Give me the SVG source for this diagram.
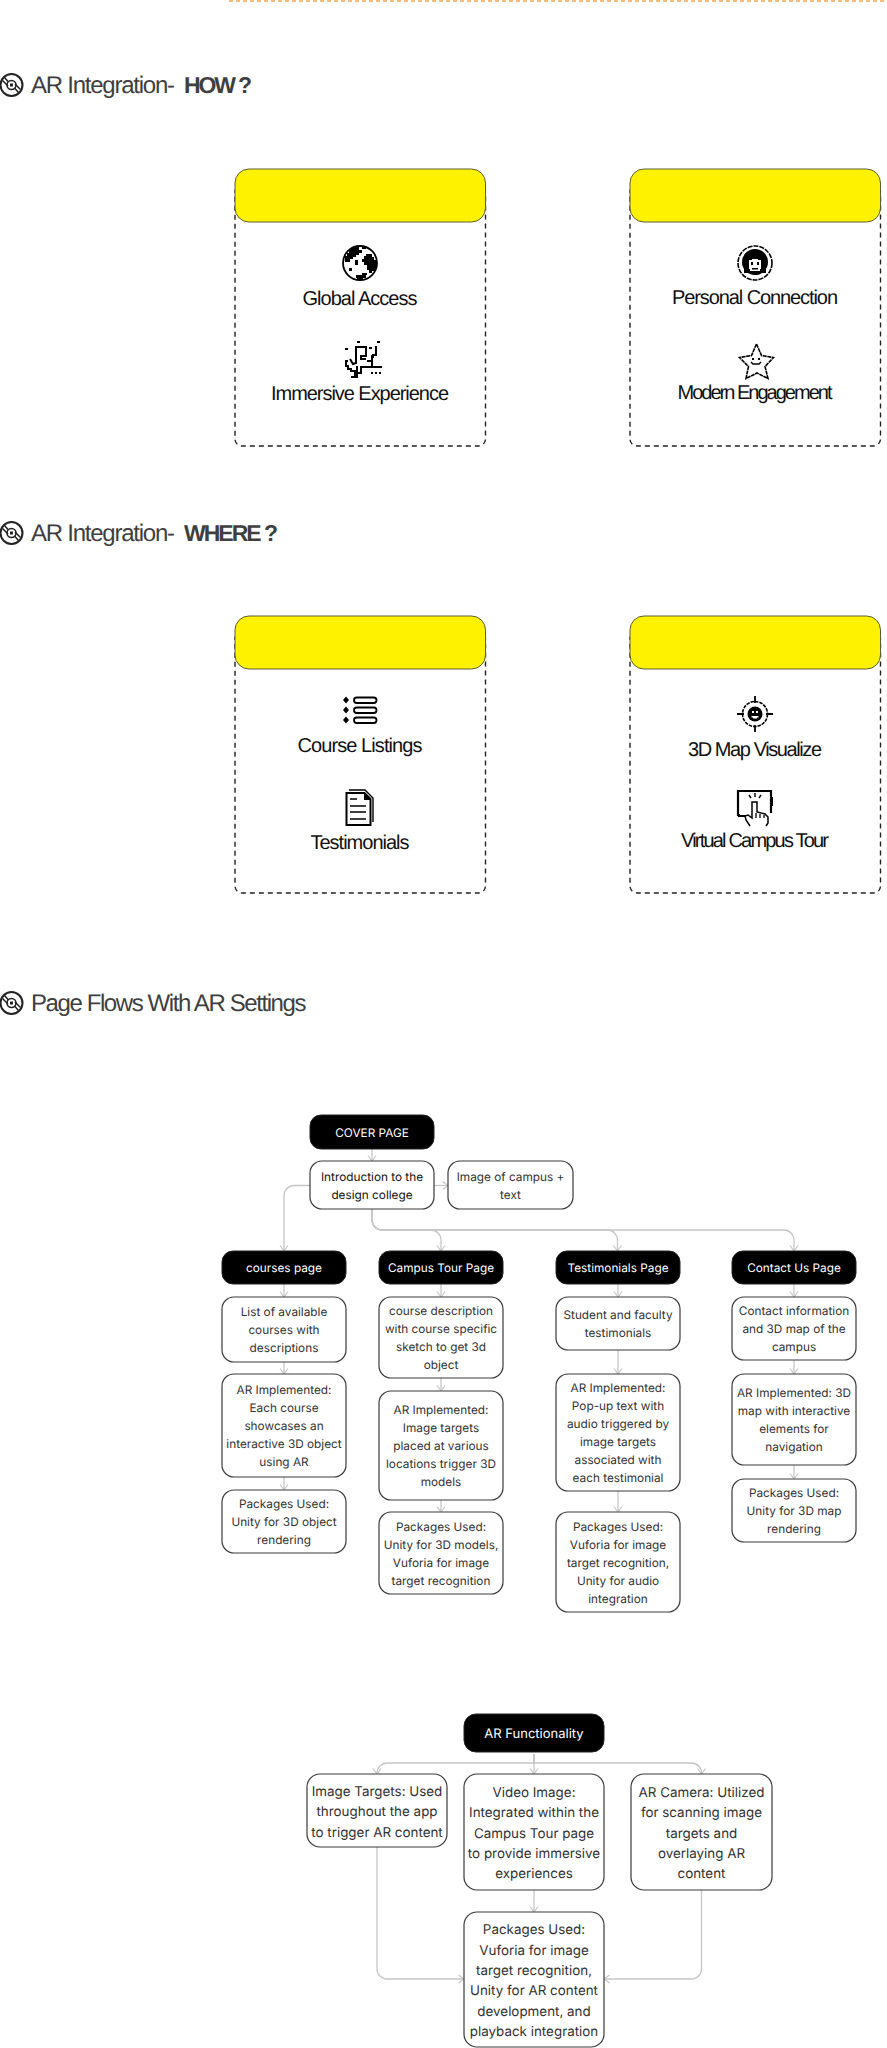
<svg xmlns="http://www.w3.org/2000/svg" xmlns:xlink="http://www.w3.org/1999/xlink" width="887" height="2048" viewBox="0 0 887 2048">
<style>
text{text-rendering:geometricPrecision}
.h{font-family:"Liberation Sans",Arial,sans-serif;font-size:24px;fill:#3f3f3f}
.hb{font-weight:700;font-size:23px}
.l{font-family:"Liberation Sans",Arial,sans-serif;font-size:20px;fill:#111;text-anchor:middle}
.y{fill:#fff200;stroke:#5c5c38;stroke-width:1}
.d{fill:none;stroke:#222;stroke-width:1.4;stroke-dasharray:5 4}
.n{fill:#fff;stroke:#3a3a3a;stroke-width:1.2}
.b{fill:#000;stroke:#222;stroke-width:1}
.t{font-family:Inter,"Noto Sans",sans-serif;font-size:11.8px;fill:#333;text-anchor:middle}
.w{font-family:Inter,"Noto Sans",sans-serif;font-size:11.8px;fill:#fff;text-anchor:middle}
.a{font-family:Inter,"Noto Sans",sans-serif;font-size:13.4px;fill:#333;text-anchor:middle}
.c{fill:none;stroke:#c6c6c6;stroke-width:1.3;marker-end:url(#ah)}
.i{fill:none;stroke:#000;stroke-width:2}
.f{fill:#000}
.wf{fill:#fff}
</style>
<defs>
<marker id="ah" viewBox="0 0 10 10" refX="8.5" refY="5" markerWidth="10" markerHeight="10" markerUnits="userSpaceOnUse" orient="auto"><path d="M3 1 L8.5 5 L3 9" fill="none" stroke="#c6c6c6" stroke-width="1.2"/></marker>
<g id="disc">
<circle cx="11.500" cy="0" r="11" fill="none" stroke="#222" stroke-width="2"/>
<circle cx="11.500" cy="0" r="4.500" fill="none" stroke="#222" stroke-width="1.600"/>
<rect x="10" y="-1.500" width="3" height="3" fill="#222"/>
<path d="M4.500 -7.500 L8.500 -3 M14.500 3 L18.500 7.500 M2.500 -4.500 L8 1 M15 -1 L20.500 4.500" fill="none" stroke="#222" stroke-width="1.500"/>
</g>
</defs>
<rect width="887" height="2048" fill="#fff"/>
<line id="top-rule" x1="229" y1="1" x2="887" y2="1" stroke="#f6a750" stroke-width="1.4" stroke-dasharray="4 3"/>

<g id="heading-how"><use href="#disc" y="85"/><text class="h" x="31" y="93" textLength="144">AR Integration-</text><text class="h hb" x="184" y="93" textLength="68">HOW ?</text></g>
<g id="heading-where"><use href="#disc" y="533"/><text class="h" x="31" y="541" textLength="144">AR Integration-</text><text class="h hb" x="184" y="541" textLength="94">WHERE ?</text></g>
<g id="heading-flows"><use href="#disc" y="1003"/><text class="h" x="31" y="1011" textLength="275.500">Page Flows With AR Settings</text></g>

<g id="card-how-1">
<rect class="d" x="235" y="185" width="250.500" height="261" rx="7"/>
<rect class="y" x="235" y="169" width="250.500" height="53" rx="14"/>
<g id="icon-globe"><circle cx="360" cy="263" r="17" fill="#fff" stroke="#000" stroke-width="1.800"/><path class="f" d="M354 247h5v3h3v3h-3v2h-3v2h-3v2h-3v3h-5v-6h2v-3h2v-3h2v-2h3zM366 254h6v3h2v3h3v8h-2v3h-3v2h-3v-3h-2v-5h-3v-3h-2v-3h2v-3h2zM355 260h3v5h-3zM356 275h6v-2h5v2h-1v3h-3v2h-6v-2h-1zM362 247h4v2h-4zM349 268h3v3h-3z"/></g>
<text class="l" x="360" y="305" textLength="115">Global Access</text>
<g id="icon-dino">
<path class="i" d="M355 376v-5h-4v-2h-3v-3h-2v-5h2M350 359l3 5 3-1v-16h10v9h-5v3h5M357 366v7h4v-6h6M361 373h-4v4h-6"/>
<path class="i" d="M345 349h3M357 342h3M377 342h3M369 348h3M376 346v9h-3v3M372 366v-11M367 361h5M367 367h15M371 373h2M375 373h2M379 373h2"/>
<rect class="f" x="355" y="351" width="2" height="2"/>
</g>
<text class="l" x="360" y="400" textLength="178">Immersive Experience</text>
</g>

<g id="card-how-2">
<rect class="d" x="630" y="185" width="250.500" height="261" rx="7"/>
<rect class="y" x="630" y="169" width="250.500" height="53" rx="14"/>
<g id="icon-face"><circle cx="755" cy="263" r="17" fill="none" stroke="#000" stroke-width="1.600" stroke-dasharray="5 1"/><circle cx="755" cy="262" r="13" class="f"/><path class="f" d="M744 264h22v9h-22z"/><path class="wf" d="M749 260h3v-1h6v1h3v9h-1v2h-10v-2h-1z"/><rect x="751" y="262" width="2" height="3" class="f"/><rect x="757" y="262" width="2" height="3" class="f"/><rect x="752" y="268" width="6" height="1.500" class="f"/></g>
<text class="l" x="755" y="304" textLength="166">Personal Connection</text>
<g id="icon-star"><path d="M756.500 344l5 11.500 12 2-8.500 9 3 12-11-5.500-11 5.500 2.500-12-9-9 12-2z" fill="none" stroke="#000" stroke-width="1.600" stroke-dasharray="4 .6"/><rect class="f" x="752" y="358" width="2" height="2"/><rect class="f" x="758" y="358" width="2" height="2"/><path d="M751 362l2 2h6l2-2" fill="none" stroke="#000" stroke-width="1.400"/></g>
<text class="l" x="755" y="399" textLength="155">Modern Engagement</text>
</g>

<g id="card-where-1">
<rect class="d" x="235" y="632" width="250.500" height="261" rx="7"/>
<rect class="y" x="235" y="616" width="250.500" height="53" rx="14"/>
<g id="icon-list"><path class="f" d="M346 696.500l3 3.500-3 3.500-3-3.500zM346 706.500l3 3.500-3 3.500-3-3.500zM346 716.500l3 3.500-3 3.500-3-3.500z"/><g fill="none" stroke="#000" stroke-width="1.800"><rect x="354" y="697.500" width="22.500" height="5.500" rx="2.700"/><rect x="354" y="707.500" width="22.500" height="5.500" rx="2.700"/><rect x="354" y="717.500" width="22.500" height="5.500" rx="2.700"/></g></g>
<text class="l" x="360" y="752" textLength="125">Course Listings</text>
<g id="icon-doc"><path d="M346.500 793h18l6 6v26h-24z" fill="none" stroke="#000" stroke-width="2"/><path d="M349 790h16l8 8v24" fill="none" stroke="#000" stroke-width="1.400"/><path class="f" d="M364 793l7 7h-7z"/><path d="M350 799h7M350 806h16M350 812h16M350 819h16" fill="none" stroke="#000" stroke-width="1.600"/></g>
<text class="l" x="360" y="849" textLength="99">Testimonials</text>
</g>

<g id="card-where-2">
<rect class="d" x="630" y="632" width="250.500" height="261" rx="7"/>
<rect class="y" x="630" y="616" width="250.500" height="53" rx="14"/>
<g id="icon-target"><circle cx="755" cy="714" r="12.500" fill="none" stroke="#000" stroke-width="1.600" stroke-dasharray="3.500 1"/><path d="M755 696v7M755 725v7M737 714h7M766 714h7" fill="none" stroke="#000" stroke-width="1.800"/><circle cx="755" cy="714" r="7.500" class="f"/><rect x="752" y="711" width="2" height="2" class="wf"/><rect x="756" y="711" width="2" height="2" class="wf"/><path d="M751.500 716h7v1.500h-1.500v1h-4v-1h-1.500z" class="wf"/></g>
<text class="l" x="755" y="756" textLength="134">3D Map Visualize</text>
<g id="icon-tablet"><path d="M747 816h-8v-1h-1v-24h33v22" fill="none" stroke="#000" stroke-width="2.200"/><rect x="770" y="797" width="3" height="9" class="f"/><path d="M749 795l2 3M755 793v4M761 795l-2 3" fill="none" stroke="#000" stroke-width="1.400"/><path d="M750 826l-4-6-1-4 3-1 4 3v-16h5v10l8 2 3 3v6l-2 3" fill="#fff" stroke="#000" stroke-width="1.500"/><path d="M756 813v5M760 814v4M764 815v3" fill="none" stroke="#000" stroke-width="1.300"/></g>
<text class="l" x="755" y="847" textLength="148">Virtual Campus Tour</text>
</g>

<g id="connectors">
<path class="c" d="M372 1149V1161"/>
<path class="c" d="M434 1185.500H448"/>
<path class="c" d="M310 1185.500H294a10 10 0 0 0-10 10V1251"/>
<path class="c" d="M372 1209V1220a10 10 0 0 0 10 10H431a10 10 0 0 1 10 10V1251"/>
<path class="c" d="M372 1209V1220a10 10 0 0 0 10 10H607.500a10 10 0 0 1 10 10V1251"/>
<path class="c" d="M372 1209V1220a10 10 0 0 0 10 10H784a10 10 0 0 1 10 10V1251"/>
<path class="c" d="M284 1284V1297"/><path class="c" d="M284 1362V1374"/><path class="c" d="M284 1477V1490"/>
<path class="c" d="M441 1284V1297"/><path class="c" d="M441 1378V1391"/><path class="c" d="M441 1500V1512"/>
<path class="c" d="M618 1284V1297"/><path class="c" d="M618 1350V1374"/><path class="c" d="M618 1491V1512"/>
<path class="c" d="M794 1284V1297"/><path class="c" d="M794 1360V1374"/><path class="c" d="M794 1465V1479"/>
<path class="c" d="M534 1754V1763H387a10 10 0 0 0-10 10V1774"/>
<path class="c" d="M534 1754V1774"/>
<path class="c" d="M534 1754V1763H691.500a10 10 0 0 1 10 10V1774"/>
<path class="c" d="M534 1890V1912"/>
<path class="c" d="M377 1847V1969a10 10 0 0 0 10 10H464"/>
<path class="c" d="M701.500 1890V1969a10 10 0 0 1-10 10H604"/>
</g>

<g id="n-cover"><rect class="b" x="310" y="1115" width="124" height="34" rx="11"/><text class="w" x="372" y="1136.500">COVER PAGE</text></g>
<g id="n-intro"><rect class="n" x="310" y="1161" width="124" height="48" rx="12"/><text class="t" style="fill:#111" x="372" y="1181">Introduction to the</text><text class="t" style="fill:#111" x="372" y="1199">design college</text></g>
<g id="n-image"><rect class="n" x="448" y="1161" width="125" height="48" rx="12"/><text class="t" x="510.500" y="1181">Image of campus +</text><text class="t" x="510.500" y="1199">text</text></g>

<g id="n-courses"><rect class="b" x="222" y="1251" width="124" height="33" rx="11"/><text class="w" x="284" y="1272">courses page</text></g>
<g id="n-c1"><rect class="n" x="222" y="1297" width="124" height="65" rx="12"/><text class="t" x="284" y="1316">List of available</text><text class="t" x="284" y="1334">courses with</text><text class="t" x="284" y="1352">descriptions</text></g>
<g id="n-c2"><rect class="n" x="222" y="1374" width="124" height="103" rx="12"/><text class="t" x="284" y="1394">AR Implemented:</text><text class="t" x="284" y="1412">Each course</text><text class="t" x="284" y="1430">showcases an</text><text class="t" x="284" y="1448">interactive 3D object</text><text class="t" x="284" y="1466">using AR</text></g>
<g id="n-c3"><rect class="n" x="222" y="1490" width="124" height="63" rx="12"/><text class="t" x="284" y="1508">Packages Used:</text><text class="t" x="284" y="1526">Unity for 3D object</text><text class="t" x="284" y="1544">rendering</text></g>

<g id="n-campus"><rect class="b" x="379" y="1251" width="124" height="33" rx="11"/><text class="w" x="441" y="1272">Campus Tour Page</text></g>
<g id="n-t1"><rect class="n" x="379" y="1297" width="124" height="81" rx="12"/><text class="t" x="441" y="1315">course description</text><text class="t" x="441" y="1333">with course specific</text><text class="t" x="441" y="1351">sketch to get 3d</text><text class="t" x="441" y="1369">object</text></g>
<g id="n-t2"><rect class="n" x="379" y="1391" width="124" height="109" rx="12"/><text class="t" x="441" y="1414">AR Implemented:</text><text class="t" x="441" y="1432">Image targets</text><text class="t" x="441" y="1450">placed at various</text><text class="t" x="441" y="1468">locations trigger 3D</text><text class="t" x="441" y="1486">models</text></g>
<g id="n-t3"><rect class="n" x="379" y="1512" width="124" height="82" rx="12"/><text class="t" x="441" y="1531">Packages Used:</text><text class="t" x="441" y="1549">Unity for 3D models,</text><text class="t" x="441" y="1567">Vuforia for image</text><text class="t" x="441" y="1585">target recognition</text></g>

<g id="n-testimonials"><rect class="b" x="556" y="1251" width="124" height="33" rx="11"/><text class="w" x="618" y="1272">Testimonials Page</text></g>
<g id="n-s1"><rect class="n" x="556" y="1297" width="124" height="53" rx="12"/><text class="t" x="618" y="1319">Student and faculty</text><text class="t" x="618" y="1337">testimonials</text></g>
<g id="n-s2"><rect class="n" x="556" y="1374" width="124" height="117" rx="12"/><text class="t" x="618" y="1392">AR Implemented:</text><text class="t" x="618" y="1410">Pop-up text with</text><text class="t" x="618" y="1428">audio triggered by</text><text class="t" x="618" y="1446">image targets</text><text class="t" x="618" y="1464">associated with</text><text class="t" x="618" y="1482">each testimonial</text></g>
<g id="n-s3"><rect class="n" x="556" y="1512" width="124" height="100" rx="12"/><text class="t" x="618" y="1531">Packages Used:</text><text class="t" x="618" y="1549">Vuforia for image</text><text class="t" x="618" y="1567">target recognition,</text><text class="t" x="618" y="1585">Unity for audio</text><text class="t" x="618" y="1603">integration</text></g>

<g id="n-contact"><rect class="b" x="732" y="1251" width="124" height="33" rx="11"/><text class="w" x="794" y="1272">Contact Us Page</text></g>
<g id="n-k1"><rect class="n" x="732" y="1297" width="124" height="63" rx="12"/><text class="t" x="794" y="1315">Contact information</text><text class="t" x="794" y="1333">and 3D map of the</text><text class="t" x="794" y="1351">campus</text></g>
<g id="n-k2"><rect class="n" x="732" y="1374" width="124" height="91" rx="12"/><text class="t" x="794" y="1397">AR Implemented: 3D</text><text class="t" x="794" y="1415">map with interactive</text><text class="t" x="794" y="1433">elements for</text><text class="t" x="794" y="1451">navigation</text></g>
<g id="n-k3"><rect class="n" x="732" y="1479" width="124" height="63" rx="12"/><text class="t" x="794" y="1497">Packages Used:</text><text class="t" x="794" y="1515">Unity for 3D map</text><text class="t" x="794" y="1533">rendering</text></g>

<g id="n-arf"><rect class="b" x="464" y="1714" width="140" height="38" rx="12"/><text class="a" style="fill:#fff;font-size:13px" x="534" y="1738">AR Functionality</text></g>
<g id="n-targets"><rect class="n" x="307" y="1774" width="140" height="73" rx="13"/><text class="a" x="377" y="1796">Image Targets: Used</text><text class="a" x="377" y="1816">throughout the app</text><text class="a" x="377" y="1836.500">to trigger AR content</text></g>
<g id="n-video"><rect class="n" x="464" y="1774" width="140" height="116" rx="13"/><text class="a" x="534" y="1797">Video Image:</text><text class="a" x="534" y="1817">Integrated within the</text><text class="a" x="534" y="1837.500">Campus Tour page</text><text class="a" x="534" y="1858">to provide immersive</text><text class="a" x="534" y="1878">experiences</text></g>
<g id="n-camera"><rect class="n" x="631" y="1774" width="141" height="116" rx="13"/><text class="a" x="701.500" y="1797">AR Camera: Utilized</text><text class="a" x="701.500" y="1817">for scanning image</text><text class="a" x="701.500" y="1837.500">targets and</text><text class="a" x="701.500" y="1858">overlaying AR</text><text class="a" x="701.500" y="1878">content</text></g>
<g id="n-packages"><rect class="n" x="464" y="1912" width="140" height="135" rx="13"/><text class="a" x="534" y="1934">Packages Used:</text><text class="a" x="534" y="1954.500">Vuforia for image</text><text class="a" x="534" y="1974.500">target recognition,</text><text class="a" x="534" y="1995">Unity for AR content</text><text class="a" x="534" y="2015.500">development, and</text><text class="a" x="534" y="2035.500">playback integration</text></g>
</svg>
